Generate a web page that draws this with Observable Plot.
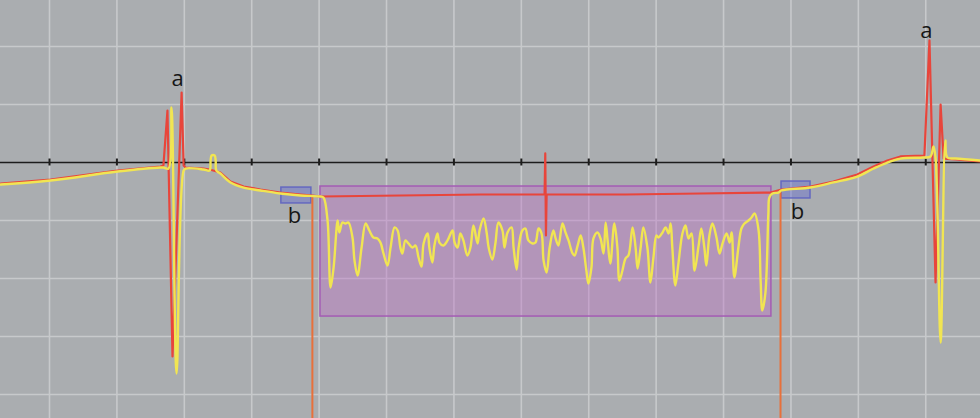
<!DOCTYPE html>
<html>
<head>
<meta charset="utf-8">
<script src="https://cdn.jsdelivr.net/npm/d3@7"></script>
<script src="https://cdn.jsdelivr.net/npm/@observablehq/plot@0.6"></script>
<style>
  html, body { margin: 0; padding: 0; background: #aaadb0; }
  #chart svg { display: block; }
</style>
</head>
<body>
<div id="chart"></div>
<script>
// time in ms (grid every 200 ms), amplitude in mV (grid every 0.5 mV)
const gridTimes = [0, 200, 400, 600, 800, 1000, 1200, 1400, 1600, 1800, 2000, 2200, 2400, 2600];
const gridLevels = [1, 0.5, -0.5, -1, -1.5, -2];

// red trace segments [ms, mV]
const redPre = [[-145,-0.182],[3,-0.147],[202,-0.069],[329,-0.035],[338,-0.026]];
const redSpikeA = [[350,0.448],[365,-1.672],[392,0.603],[398,-0.026],[404,-0.045]];
const redMid = [[457,-0.052],[475,-0.060],[507,-0.086],[537,-0.164],[576,-0.207],[626,-0.233],[685,-0.259],[745,-0.276],[780,-0.285]];
const redBox = [[804,-0.293],[1279,-0.276],[1469,-0.276],[1471,0.078],[1473,-0.629],[1475,-0.276],[1709,-0.276],[1932,-0.267],[2139,-0.259],[2172,-0.233]];
const redPost = [[2258,-0.207],[2326,-0.164],[2397,-0.103],[2445,-0.035],[2486,0.017],[2525,0.052],[2593,0.060]];
const redSpikeB = [[2596,0.060],[2611,1.052],[2629,-1.034],[2644,0.500],[2653,0.034],[2688,0.026],[2762,0.009]];

// yellow trace segments [ms, mV]
const yelPre = [[-145,-0.190],[3,-0.155],[202,-0.078],[329,-0.043],[338,-0.043],[353,-0.052]];
const yelSpikeA = [[362,0.474],[377,-1.819],[398,-0.069],[404,-0.052]];
const yelMid = [[457,-0.060],[475,-0.069],[478,0.017],[481,0.060],[490,0.060],[493,0.017],[495,-0.069],[507,-0.095],[537,-0.172],[576,-0.216],[626,-0.241],[685,-0.267],[745,-0.284],[804,-0.293],[813,-0.302]];
const yelBox = [
 [825,-0.500],[834,-1.078],[843,-0.905],[855,-0.500],[860,-0.603],[869,-0.517],[878,-0.526],[887,-0.517],
 [899,-0.647],[905,-0.845],[914,-0.974],[926,-0.733],[938,-0.526],[949,-0.586],[961,-0.647],[973,-0.655],
 [982,-0.690],[991,-0.784],[1003,-0.888],[1012,-0.733],[1024,-0.560],[1033,-0.586],[1041,-0.733],[1047,-0.784],
 [1056,-0.672],[1065,-0.698],[1077,-0.733],[1086,-0.716],[1095,-0.819],[1104,-0.897],[1110,-0.698],[1122,-0.612],
 [1127,-0.733],[1136,-0.862],[1142,-0.716],[1151,-0.612],[1157,-0.690],[1169,-0.716],[1181,-0.672],[1196,-0.586],
 [1202,-0.690],[1211,-0.733],[1219,-0.612],[1228,-0.672],[1240,-0.802],[1249,-0.733],[1258,-0.543],[1270,-0.698],
 [1276,-0.586],[1288,-0.483],[1297,-0.603],[1303,-0.733],[1314,-0.836],[1323,-0.698],[1332,-0.517],[1344,-0.586],
 [1350,-0.733],[1359,-0.603],[1371,-0.560],[1377,-0.733],[1386,-0.922],[1392,-0.733],[1403,-0.586],[1412,-0.569],
 [1421,-0.672],[1433,-0.698],[1442,-0.690],[1451,-0.569],[1460,-0.612],[1466,-0.845],[1475,-0.948],[1484,-0.733],
 [1495,-0.586],[1501,-0.647],[1510,-0.716],[1522,-0.526],[1531,-0.603],[1540,-0.672],[1552,-0.784],[1558,-0.802],
 [1567,-0.716],[1576,-0.629],[1584,-0.733],[1593,-0.931],[1599,-1.043],[1608,-0.905],[1614,-0.655],[1626,-0.603],
 [1635,-0.655],[1644,-0.784],[1650,-0.517],[1656,-0.672],[1664,-0.871],[1676,-0.526],[1685,-0.733],[1691,-1.017],
 [1700,-0.931],[1709,-0.828],[1718,-0.800],[1730,-0.560],[1739,-0.733],[1745,-0.914],[1754,-0.733],[1762,-0.560],
 [1774,-0.733],[1783,-1.034],[1792,-0.819],[1801,-0.629],[1807,-0.647],[1819,-0.603],[1828,-0.560],[1837,-0.612],
 [1843,-0.526],[1848,-0.733],[1857,-1.060],[1866,-0.871],[1878,-0.612],[1887,-0.543],[1896,-0.655],[1905,-0.612],
 [1914,-0.931],[1926,-0.716],[1934,-0.569],[1943,-0.733],[1949,-0.888],[1958,-0.629],[1967,-0.526],[1979,-0.647],
 [1988,-0.784],[1997,-0.698],[2009,-0.612],[2018,-0.690],[2024,-0.603],[2032,-0.991],[2044,-0.733],[2053,-0.569],
 [2062,-0.526],[2074,-0.500],[2083,-0.474],[2092,-0.440],[2104,-0.586],[2110,-1.017],[2115,-1.276],[2124,-1.129],
 [2133,-0.440],[2136,-0.302],[2145,-0.267],[2163,-0.259]
];
const yelPost = [[2172,-0.241],[2258,-0.216],[2326,-0.172],[2397,-0.121],[2445,-0.052],[2486,0.000],[2525,0.034],[2593,0.043],[2614,0.052]];
const yelSpikeB = [[2623,0.138],[2629,0.043],[2644,-1.552],[2658,0.190],[2664,0.043],[2688,0.034],[2762,0.017]];

// annotation regions
const purpleBox = [{x1: 804, x2: 2142, y1: -0.207, y2: -1.328}];
const blueBoxes = [{x1: 688, x2: 777, y1: -0.216, y2: -0.353}, {x1: 2172, x2: 2258, y1: -0.164, y2: -0.310}];
const markerTimes = [780, 2169];
const markerTops = [-0.302, -0.259];
const labelA = [{t: 380, v: 0.724, s: "a"}, {t: 2602, v: 1.138, s: "a"}];
const labelB = [{t: 727, v: -0.457, s: "b"}, {t: 2219, v: -0.422, s: "b"}];

const toRows = arr => arr.map(([t, v]) => ({t, v}));
const red = toRows([].concat(redPre, redSpikeA, redMid, redBox, redPost, redSpikeB));
const yellow = toRows([].concat(yelPre, yelSpikeA, yelMid, yelBox, yelPost, yelSpikeB));
const markers = markerTimes.map((t, i) => ({t, top: markerTops[i]}));

const chart = Plot.plot({
  width: 980,
  height: 418,
  margin: 0,
  x: {domain: [-145.4, 2762.4], axis: null},
  y: {domain: [-2.2069, 1.3966], axis: null},
  style: {background: "#aaadb0", fontFamily: "Open Sans, sans-serif"},
  marks: [
    Plot.ruleX(gridTimes, {stroke: "#c7c9cb", strokeWidth: 1.6}),
    Plot.ruleY(gridLevels, {stroke: "#c7c9cb", strokeWidth: 1.6}),
    Plot.ruleY([0], {stroke: "#1c1c1c", strokeWidth: 1.6}),
    Plot.ruleX(gridTimes, {y1: -0.03, y2: 0.03, stroke: "#1c1c1c", strokeWidth: 2}),
    Plot.rect(purpleBox, {x1: "x1", x2: "x2", y1: "y1", y2: "y2", fill: "#c070c8", fillOpacity: 0.4, stroke: "#a45cb4", strokeWidth: 1.5}),
    Plot.rect(blueBoxes, {x1: "x1", x2: "x2", y1: "y1", y2: "y2", fill: "#5b63d8", fillOpacity: 0.38, stroke: "#6468c0", strokeWidth: 1.5}),
    Plot.ruleX(markers, {x: "t", y1: "top", y2: -2.3, stroke: "#e8703a", strokeWidth: 2}),
    Plot.line(red, {x: "t", y: "v", stroke: "#e8453b", strokeWidth: 2.2, curve: "linear"}),
    Plot.line(yellow, {x: "t", y: "v", stroke: "#f1e552", strokeWidth: 2.4, curve: "catmull-rom"}),
    Plot.text(labelA, {x: "t", y: "v", text: "s", fontSize: 22, fill: "#161616"}),
    Plot.text(labelB, {x: "t", y: "v", text: "s", fontSize: 22, fill: "#161616"})
  ]
});
document.getElementById("chart").appendChild(chart);
</script>
</body>
</html>
